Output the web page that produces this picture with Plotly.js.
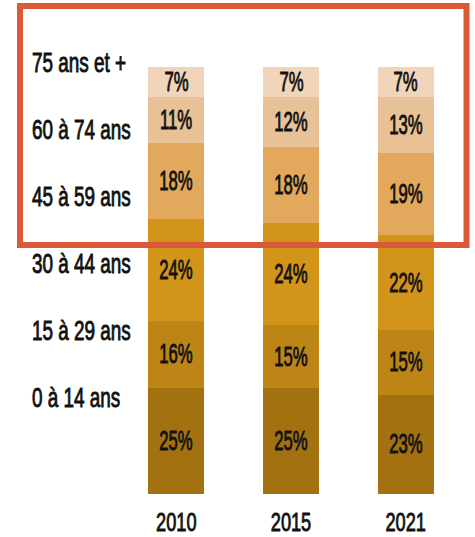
<!DOCTYPE html>
<html>
<head>
<meta charset="utf-8">
<script src="https://cdn.plot.ly/plotly-3.0.1.min.js"></script>
<style>html,body{margin:0;padding:0;background:#fff;}#chart{width:475px;height:537px;}</style>
</head>
<body>
<div id="chart"></div>
<script>
// Data
const years = ['2010', '2015', '2021'];
const ageGroups = ['0 à 14 ans', '15 à 29 ans', '30 à 44 ans', '45 à 59 ans', '60 à 74 ans', '75 ans et +'];
const age0_14  = [25, 25, 23];
const age15_29 = [16, 15, 15];
const age30_44 = [24, 24, 22];
const age45_59 = [18, 18, 19];
const age60_74 = [11, 12, 13];
const age75p   = [7, 7, 7];
const seriesValues = [age0_14, age15_29, age30_44, age45_59, age60_74, age75p];

// Styles
const colors = ['#A3710F', '#BD8516', '#D2951A', '#E2A95D', '#E8C196', '#F0D5BA'];
const FONT = '"Liberation Sans", Arial, sans-serif';
const FS = 27;
const W = 475, H = 537;
const M = {l: 119, r: 12, t: 67, b: 43};
const pw = W - M.l - M.r, ph = H - M.t - M.b;
const px2x = p => (p - M.l) / pw;
const py2y = p => (H - M.b - p) / ph;

const traces = seriesValues.map((vals, i) => ({
  type: 'bar',
  name: ageGroups[i],
  x: years,
  y: vals,
  marker: {color: colors[i], line: {width: 0}},
  hoverinfo: 'skip'
}));

// Value labels centred in each (normalised) segment; x given as category index
const valueLabels = [];
years.forEach((yr, j) => {
  const total = seriesValues.reduce((s, arr) => s + arr[j], 0);
  let cum = 0;
  seriesValues.forEach(arr => {
    const v = arr[j];
    valueLabels.push({
      text: v + '%', x: j, y: (cum + v / 2) / total * 100,
      xref: 'x', yref: 'y', showarrow: false,
      xanchor: 'center', yanchor: 'middle',
      font: {family: FONT, size: 27, color: '#111'}
    });
    cum += v;
  });
});

// Left-hand group labels (top to bottom = oldest to youngest)
const labelTopPx = 63, labelStepPx = 67;
const groupLabels = ageGroups.slice().reverse().map((g, i) => ({
  text: g,
  xref: 'paper', yref: 'paper',
  x: px2x(30), y: py2y(labelTopPx + i * labelStepPx),
  xanchor: 'left', yanchor: 'middle',
  showarrow: false,
  font: {family: FONT, size: FS, color: '#111'}
}));

const layout = {
  width: W, height: H,
  margin: M,
  barmode: 'stack',
  barnorm: 'percent',
  bargap: 0.51,
  showlegend: false,
  paper_bgcolor: '#fff',
  plot_bgcolor: '#fff',
  xaxis: {
    type: 'category',
    range: [-0.5, 2.5],
    showgrid: false, zeroline: false, showline: false,
    ticks: '', ticklabelstandoff: 10,
    tickfont: {family: FONT, size: 26, color: '#111'}
  },
  yaxis: {
    range: [0, 100],
    visible: false,
    fixedrange: true
  },
  annotations: valueLabels.concat(groupLabels),
  shapes: [{
    type: 'rect', xref: 'paper', yref: 'paper', layer: 'above',
    x0: px2x(20), x1: px2x(466.5), y0: py2y(6), y1: py2y(245),
    line: {color: '#DA5A38', width: 6},
    fillcolor: 'rgba(0,0,0,0)'
  }]
};

// Horizontally condense text (and thicken slightly) to mimic the narrow display typeface
function squeeze(el, k, leftAnchor) {
  const bb = el.getBBox();
  const cx = leftAnchor ? bb.x : bb.x + bb.width / 2;
  const prev = el.getAttribute('transform') || '';
  el.setAttribute('transform', prev + ' translate(' + cx + ',0) scale(' + k + ',1) translate(' + (-cx) + ',0)');
  el.style.stroke = '#111';
  el.style.strokeWidth = '0.9px';
}

Plotly.newPlot('chart', traces, layout, {displayModeBar: false, staticPlot: true}).then(gd => {
  gd.querySelectorAll('.xtick text').forEach(el => squeeze(el, 0.7, false));
  gd.querySelectorAll('text.annotation-text').forEach(el => {
    const isValue = /%$/.test(el.textContent);
    squeeze(el, isValue ? 0.62 : 0.7, !isValue);
  });
});
</script>
</body>
</html>
